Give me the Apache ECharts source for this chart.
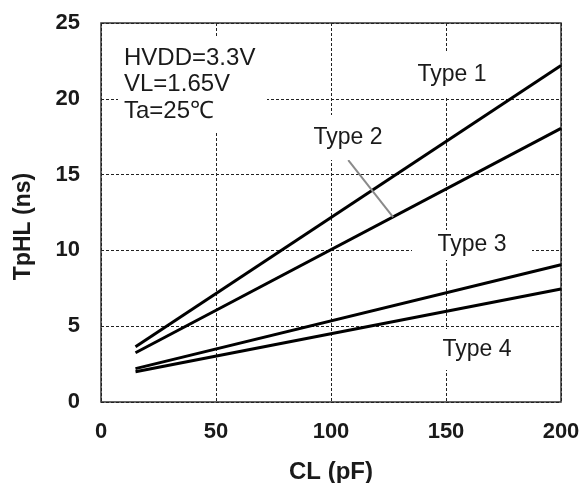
<!DOCTYPE html>
<html>
<head>
<meta charset="utf-8">
<script src="https://cdn.jsdelivr.net/npm/echarts@6/dist/echarts.min.js"></script>
<style>
  html, body { margin: 0; padding: 0; background: #fff; }
  #chart { width: 585px; height: 483px; }
</style>
</head>
<body>
<div id="chart"></div>
<script>
// Propagation delay TpHL versus load capacitance CL
const capacitance = [15, 200];           // CL (pF)
const type1 = [3.65, 22.2];              // TpHL (ns)
const type2 = [3.25, 18.05];
const type3 = [2.2, 9.05];
const type4 = [2.0, 7.45];
const seriesNames = ['Type 1', 'Type 2', 'Type 3', 'Type 4'];
const xTicks = [0, 50, 100, 150, 200];
const yTicks = [0, 5, 10, 15, 20, 25];
const conditions = ['HVDD=3.3V', 'VL=1.65V', 'Ta=25\u2103'];
// leader from the "Type 2" label to its curve, in data units
const leaderLine = [[107.5, 15.95], [127, 12.2]];

const FONT = '"Liberation Sans", Arial, sans-serif';
const values = [type1, type2, type3, type4];

const lineSeries = values.map((vals, i) => ({
  name: seriesNames[i],
  type: 'line',
  data: capacitance.map((c, k) => [c, vals[k]]),
  showSymbol: false,
  lineStyle: { color: '#000', width: 3 },
  z: 3
}));

lineSeries.push({
  name: 'leader',
  type: 'line',
  data: leaderLine,
  showSymbol: false,
  lineStyle: { color: '#8a8a8a', width: 2 },
  z: 4
});

// Text boxes with a white backing that interrupts the grid lines
function box(x, y, w, h, lines, fontSize, lineHeight, tx) {
  const left = tx !== undefined;
  return {
    type: 'group',
    z: 50,
    children: [
      { type: 'rect', shape: { x: x, y: y, width: w, height: h },
        style: { fill: '#fff' }, z: 50 },
      { type: 'text', x: left ? tx : x + w / 2, y: y + h / 2, z: 51,
        style: { text: lines.join('\n'), fill: '#1a1a1a', font: fontSize + 'px ' + FONT,
                 align: left ? 'left' : 'center', verticalAlign: 'middle', lineHeight: lineHeight } }
    ]
  };
}

const chart = echarts.init(document.getElementById('chart'), null, { renderer: 'canvas' });

chart.setOption({
  animation: false,
  backgroundColor: '#fff',
  grid: {
    left: 101, right: 24, top: 23, bottom: 81,
    outerBoundsMode: 'none', containLabel: false,
    show: true, borderColor: '#333', borderWidth: 1.5, backgroundColor: 'transparent'
  },
  xAxis: {
    type: 'value',
    min: xTicks[0], max: xTicks[xTicks.length - 1], interval: 50,
    name: 'CL (pF)', nameLocation: 'middle', nameGap: 58,
    nameTextStyle: { fontFamily: FONT, fontWeight: 'bold', fontSize: 24, color: '#1a1a1a' },
    axisLine: { show: false },
    axisTick: { show: false },
    axisLabel: { fontFamily: FONT, fontWeight: 'bold', fontSize: 22, color: '#1a1a1a', margin: 19 },
    splitLine: { show: true, lineStyle: { color: '#222', width: 1, type: [3, 2] } }
  },
  yAxis: {
    type: 'value',
    min: yTicks[0], max: yTicks[yTicks.length - 1], interval: 5,
    name: 'TpHL (ns)', nameLocation: 'middle', nameGap: 66,
    nameTextStyle: { fontFamily: FONT, fontWeight: 'bold', fontSize: 23, color: '#1a1a1a',
                     padding: [0, 28, 0, 0] },
    axisLine: { show: false },
    axisTick: { show: false },
    axisLabel: { fontFamily: FONT, fontWeight: 'bold', fontSize: 22, color: '#1a1a1a', margin: 21 },
    splitLine: { show: true, lineStyle: { color: '#222', width: 1, type: [3, 2] } }
  },
  series: lineSeries,
  graphic: [
    box(118, 36, 149, 97, conditions, 24, 26.5, 124),
    box(408, 53, 88, 44, ['Type 1'], 23, 24),
    box(303, 115, 90, 45, ['Type 2'], 23, 24),
    box(412, 230, 120, 30, ['Type 3'], 23, 24),
    box(434, 329, 86, 41, ['Type 4'], 23, 24)
  ]
});
</script>
</body>
</html>
